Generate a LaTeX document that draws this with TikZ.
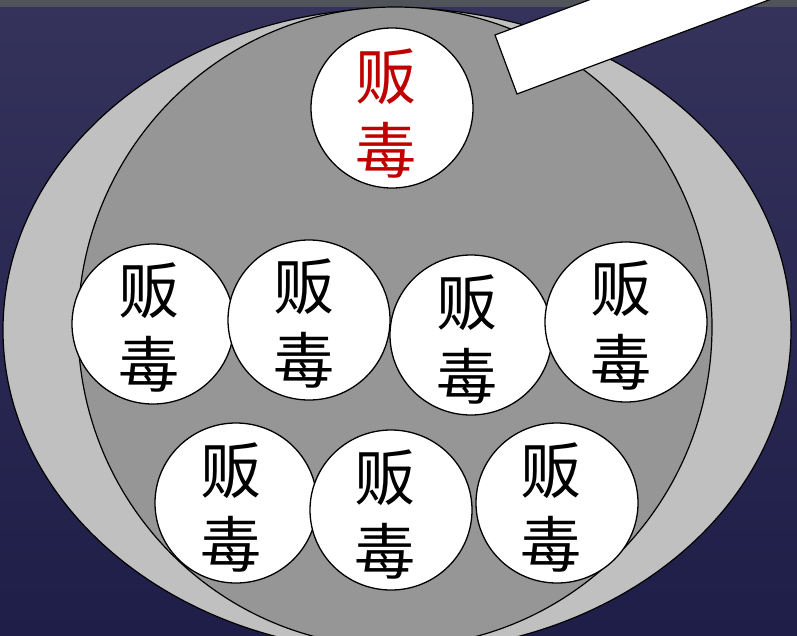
\documentclass[tikz,border=0pt]{standalone}
\usepackage{fontspec}
\newfontfamily\cjk{Noto Sans CJK SC}
\usetikzlibrary{shapes.geometric}
\definecolor{bgtop}{HTML}{35335C}
\definecolor{bgbot}{HTML}{1F1E48}
\definecolor{outergray}{HTML}{C0C0C0}
\definecolor{innergray}{HTML}{969696}
\definecolor{redtxt}{HTML}{C00000}
\definecolor{bandgray}{HTML}{50545A}
\tikzset{
  pill/.style={ellipse, draw=black, line width=1.3pt, fill=white, minimum width=162pt, minimum height=160pt, inner sep=0pt},
  word/.style={font=\cjk\fontsize{61}{74}\selectfont, align=center, inner sep=0pt},
  rim/.style={draw=black, line width=1.2pt},
}
\begin{document}
\begin{tikzpicture}[x=1pt,y=-1pt]
\useasboundingbox (0,0) rectangle (797,635);
\clip (0,0) rectangle (797,635);
\shade[top color=bgtop, bottom color=bgbot] (0,0) rectangle (797,635);
\fill[bandgray] (0,0) rectangle (797,7);
\draw[rim, fill=outergray] (397,330) ellipse [x radius=394pt, y radius=322pt];
\draw[rim, fill=innergray] (395,327) ellipse [x radius=317pt, y radius=320pt];
% top red pill
\node[pill] (p0) at (392,108) {};
\node[word, text=redtxt] (w0) at (386,114) {贩\\毒};
% middle row
\node[pill] (p1) at (153,324) {};
\node[word] (w1) at (149,328) {贩\\毒};
\node[pill] (p2) at (309,320) {};
\node[word] (w2) at (304,324) {贩\\毒};
\node[pill] (p3) at (471,335) {};
\node[word] (w3) at (467,340) {贩\\毒};
\node[pill] (p4) at (626,322) {};
\node[word] (w4) at (621,326) {贩\\毒};
% bottom row
\node[pill] (p5) at (236,503) {};
\node[word] (w5) at (231,508) {贩\\毒};
\node[pill] (p6) at (391,510) {};
\node[word] (w6) at (385,515) {贩\\毒};
\node[pill] (p7) at (557,503) {};
\node[word] (w7) at (551,508) {贩\\毒};
% handle
\coordinate (h1) at (495,35);
\coordinate (h2) at (517,94);
\coordinate (h3) at (892,-46);
\coordinate (h4) at (870,-105);
\draw[rim, fill=white] (h1) -- (h2) -- (h3) -- (h4) -- cycle;
\end{tikzpicture}
\end{document}
